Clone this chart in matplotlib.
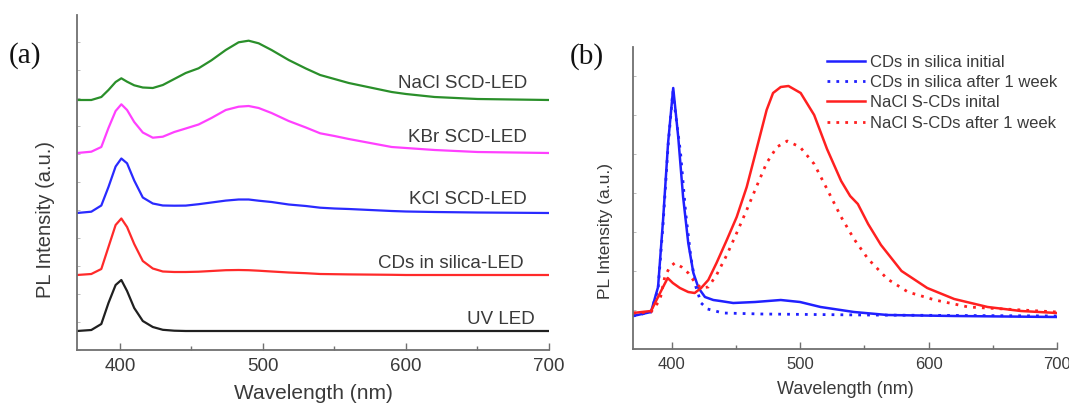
import numpy as np
import matplotlib.pyplot as plt
from matplotlib.ticker import MultipleLocator

# ---- panel (a): PL spectra, height above each stacked baseline ----
wl_a = [370, 380, 387, 392, 397, 401, 405, 410, 416, 423, 430, 438, 446, 455,
        464, 474, 483, 490, 497, 506, 518, 530, 540, 550, 560, 575, 590, 600,
        620, 650, 700]
uv_led = [0, 1, 7, 28, 46, 51, 40, 23, 10, 4, 1.2, 0.3, 0, 0,
          0, 0, 0, 0, 0, 0, 0, 0, 0, 0, 0, 0, 0, 0,
          0, 0, 0]
cds_silica = [0, 1, 6, 28, 50, 56.5, 48, 31, 14, 6.5, 3.5, 3, 3, 3.3,
              4, 4.8, 5, 4.8, 4.3, 3.5, 2.5, 1.8, 1, 0.8, 0.6, 0.4, 0.2, 0,
              0, 0, 0]
kcl = [0, 1.3, 7.5, 26, 46.5, 54.5, 49.7, 32.5, 15.5, 9.5, 7.5, 7.3, 7.4, 8.8,
       10.5, 12.4, 13.5, 13.5, 12.3, 11, 8.5, 7, 5.3, 4.5, 4, 3, 2, 1.5,
       1, 0.5, 0]
kbr = [0, 1.3, 6, 25, 42, 48.7, 43, 31, 20.5, 15.3, 16.3, 21, 24.5, 28.5,
       35, 43, 46.3, 47, 45, 40, 32, 25.5, 19.7, 17, 14, 10, 6, 5,
       3, 1, 0]
nacl = [0, 0, 3, 10, 18, 21.7, 18.3, 14.7, 12.5, 12, 15, 21, 27, 31.7,
        39.7, 50, 57.7, 59.3, 56.7, 50, 40, 31.5, 25, 21, 17, 12.5, 8, 6,
        3, 1, 0]
names_a = ['UV LED', 'CDs in silica-LED', 'KCl SCD-LED', 'KBr SCD-LED', 'NaCl SCD-LED']
offsets_a = [19, 75, 137, 197, 250]

# ---- panel (b): stability after 1 week ----
wl_blue = [370, 384, 389.5, 393.4, 397.3, 401.3, 405.2, 409, 413, 417, 421, 426,
           432.5, 438, 448, 465, 485, 500, 516, 542, 568, 620, 700]
blue_init = [33, 37, 62, 129, 206, 261, 212, 152, 106, 76, 61, 52,
             49, 48, 46, 47, 49, 47, 42, 37, 34, 33, 32]
wl_blue_w = [370, 384, 389.5, 393.4, 397.3, 401, 407, 411, 415, 419, 423, 428,
             440, 470, 550, 700]
blue_week = [33, 37, 60, 125, 203, 257, 196, 136, 92, 62, 46, 40,
             36, 35, 34, 33]
wl_red = [370, 384, 389.5, 393.4, 397, 401, 406.5, 413, 418, 423, 428.6, 435,
          443, 450.7, 458.5, 466, 474, 479, 485, 491, 500.5, 511, 521, 532,
          539, 545, 553, 563, 579, 599, 620, 646, 672, 700]
red_init = [36, 38, 52, 62, 71, 66, 61, 57, 56, 61, 69, 86,
            109, 132, 162, 199, 239, 256, 262, 263, 256, 234, 200, 168,
            153, 145, 125, 104, 78, 61, 50, 42, 38, 36]
wl_red_w = [370, 384, 391, 394.7, 398.6, 402.5, 407.8, 413, 418, 423, 428.6, 435,
            443, 450.7, 458.5, 466, 474, 482, 490, 500, 511, 521, 532, 542,
            553, 568, 584, 605, 631, 659, 700]
red_week = [36, 37, 49, 72, 82, 86, 82, 76, 67, 61, 62, 74,
            94, 116, 139, 162, 186, 202, 208, 202, 185, 160, 132, 110,
            90, 70, 57, 49, 42, 40, 37]
legend_b = ['CDs in silica initial', 'CDs in silica after 1 week',
            'NaCl S-CDs inital', 'NaCl S-CDs after 1 week']

txt = '#3a3a3a'
plt.rcParams['font.family'] = ['Liberation Sans', 'DejaVu Sans']

fig = plt.figure(figsize=(10.69, 4.05), dpi=100)
ax1 = fig.add_axes([77 / 1069, 1 - 350 / 405, 472 / 1069, 335 / 405])
ax2 = fig.add_axes([633 / 1069, 1 - 349 / 405, 424 / 1069, 302 / 405])


def style(ax, tsize, xlsize, ylsize):
    for s in ['top', 'right']:
        ax.spines[s].set_visible(False)
    for s in ['left', 'bottom']:
        ax.spines[s].set_color('#707070')
        ax.spines[s].set_linewidth(1.3)
    ax.set_xlim(370, 700)
    ax.xaxis.set_major_locator(MultipleLocator(100))
    ax.xaxis.set_minor_locator(MultipleLocator(50))
    ax.tick_params(axis='x', which='major', direction='in', length=5, width=1,
                   color='#707070', labelsize=tsize, labelcolor=txt, pad=6)
    ax.tick_params(axis='x', which='minor', direction='in', length=3, width=1,
                   color='#707070')
    ax.tick_params(axis='y', which='both', direction='in', length=2, width=0.6,
                   color='#b0b0b0', labelleft=False)
    ax.set_xlabel('Wavelength (nm)', fontsize=xlsize, color=txt, labelpad=6)
    ax.set_ylabel('PL Intensity (a.u.)', fontsize=ylsize, color=txt)


# panel (a)
colors_a = ['#202020', '#ff2a2a', '#2a2aff', '#ff40ff', '#2a8f2a']
series_a = [uv_led, cds_silica, kcl, kbr, nacl]
label_pos = [(690, 30), (682, 87), (684.5, 150), (684.5, 212), (684.5, 267)]
for vals, off, c, name, (lx, ly) in zip(series_a, offsets_a, colors_a, names_a, label_pos):
    ax1.plot(wl_a, np.array(vals) + off, color=c, lw=1.6)
    ax1.text(lx, ly, name, ha='right', va='center', fontsize=13.5, color=txt)
ax1.set_ylim(0, 335)
ax1.yaxis.set_major_locator(MultipleLocator(28))
style(ax1, 13.5, 15, 14.5)
ax1.yaxis.set_label_coords(-0.047, 0.39)

# panel (b)
ax2.plot(wl_blue, blue_init, color='#2020ff', lw=1.8, label=legend_b[0])
ax2.plot(wl_blue_w, blue_week, color='#2020ff', lw=2, ls=(0, (1, 2.2)), label=legend_b[1])
ax2.plot(wl_red, red_init, color='#ff2020', lw=1.8, label=legend_b[2])
ax2.plot(wl_red_w, red_week, color='#ff2020', lw=2, ls=(0, (1, 2.2)), label=legend_b[3])
ax2.set_ylim(0, 302)
ax2.yaxis.set_major_locator(MultipleLocator(39))
style(ax2, 12, 13, 12.5)
ax2.yaxis.set_label_coords(-0.047, 0.39)
leg = ax2.legend(loc='upper left', bbox_to_anchor=(0.4575, 0.975), frameon=False,
                 fontsize=12, handlelength=2.3, handletextpad=0.3,
                 labelspacing=0.32, borderpad=0, borderaxespad=0)
for t in leg.get_texts():
    t.set_color(txt)

fig.text(25 / 1069, 1 - 56 / 405, '(a)', fontsize=21, family='Liberation Serif',
         color='#111111', ha='center', va='center')
fig.text(587 / 1069, 1 - 57 / 405, '(b)', fontsize=21, family='Liberation Serif',
         color='#111111', ha='center', va='center')

fig.savefig('out.png', dpi=100)
